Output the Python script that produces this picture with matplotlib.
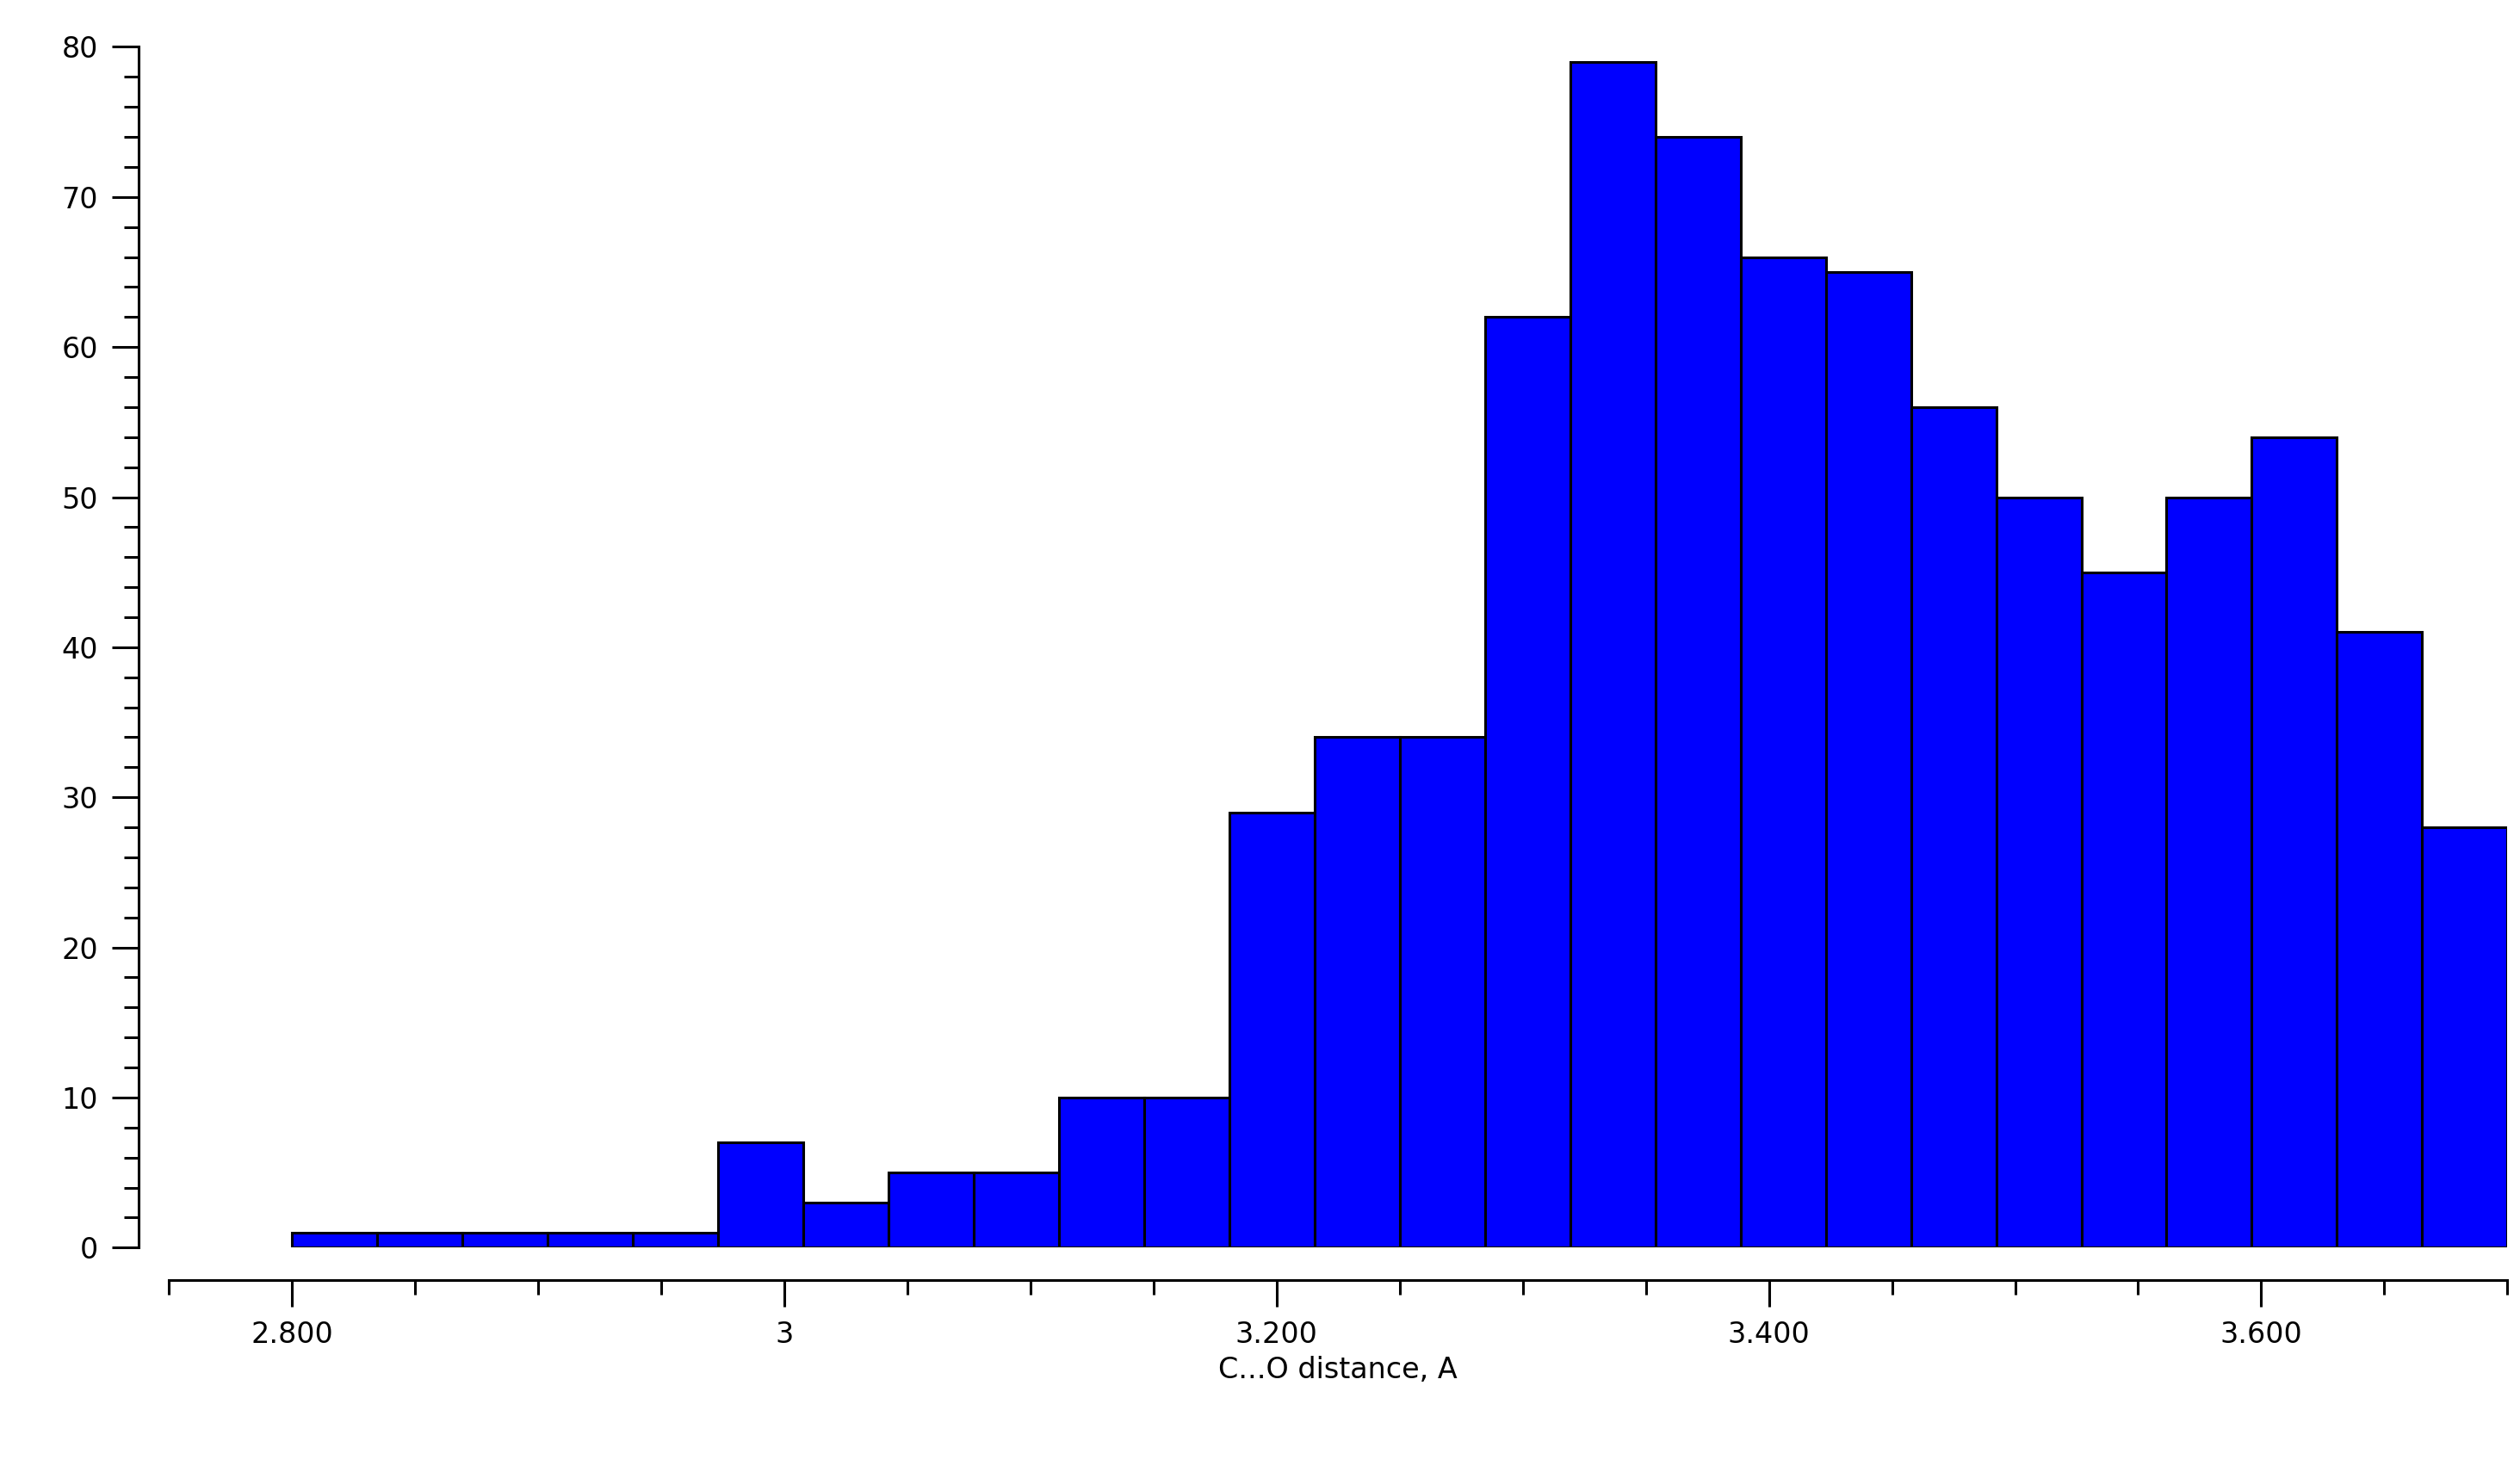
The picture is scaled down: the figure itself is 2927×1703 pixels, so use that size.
import numpy as np
import matplotlib.pyplot as plt
from matplotlib.ticker import MultipleLocator, FixedLocator

counts = [1, 1, 1, 1, 1, 7, 3, 5, 5, 10, 10, 29, 34, 34, 62, 79, 74, 66, 65, 56, 50, 45, 50, 54, 41, 28]
x_start, x_end = 2.8, 3.7
tick_vals = [2.8, 3.0, 3.2, 3.4, 3.6]
tick_labels = ["2.800", "3", "3.200", "3.400", "3.600"]

edges = np.linspace(x_start, x_end, len(counts) + 1)

fig = plt.figure(figsize=(29.27, 17.03), dpi=100)
ax = fig.add_axes([0.067, 0.149, 0.928, 0.819])
ax.bar(edges[:-1], counts, width=np.diff(edges), align='edge',
       color='#0000ff', edgecolor='black', linewidth=2.2)

ax.set_xlim(2.75, 3.70)
ax.set_ylim(0, 80)
for s in ['top', 'right']:
    ax.spines[s].set_visible(False)
ax.spines['left'].set_position(('outward', 25))
ax.spines['bottom'].set_position(('outward', 27))
ax.spines['left'].set_bounds(0, 80)
for s in ['left', 'bottom']:
    ax.spines[s].set_linewidth(2.2)

ax.yaxis.set_major_locator(MultipleLocator(10))
ax.yaxis.set_minor_locator(MultipleLocator(2))
ax.xaxis.set_major_locator(FixedLocator(tick_vals))
ax.set_xticklabels(tick_labels)
ax.xaxis.set_minor_locator(MultipleLocator(0.05))
ax.tick_params(which='major', length=22, width=2.2, labelsize=24, pad=12)
ax.tick_params(which='minor', length=12, width=2.2)
ax.set_xlabel("C...O distance, A", fontsize=24, labelpad=6)

fig.savefig("out.png", dpi=100)
